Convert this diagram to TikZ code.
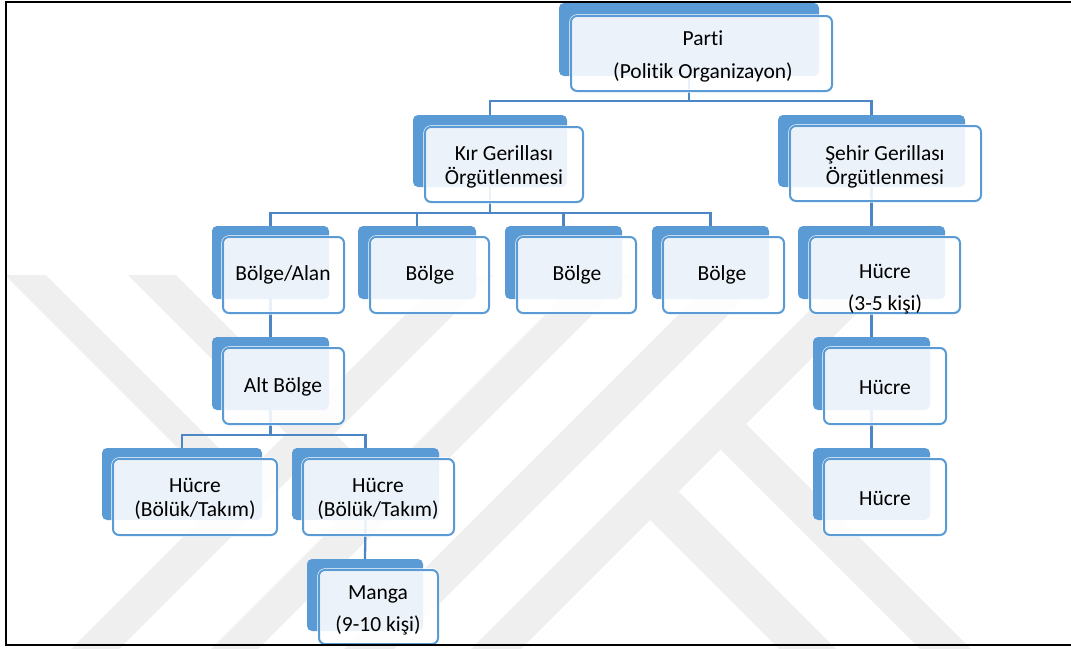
\documentclass[tikz,border=0pt]{standalone}
\usepackage{fontspec}
\setmainfont{Carlito}[Ligatures=CommonOff]
\usetikzlibrary{fit}
\pgfdeclarelayer{wm}
\pgfdeclarelayer{bg}
\pgfsetlayers{wm,bg,main}
\definecolor{boxblue}{HTML}{5B9BD5}
\definecolor{linkblue}{HTML}{4D86C4}
\definecolor{wmgray}{HTML}{EFEFEF}
\tikzset{
  backbox/.style={fill=boxblue, draw=none, rounded corners=5pt, inner sep=0pt},
  frontbox/.style={fill=white, fill opacity=0.88, draw=white,
    double=boxblue, double distance=2pt, line width=0.6pt, rounded corners=6pt,
    inner sep=0pt},
  txt/.style={align=center, inner sep=0pt, text=black, font=\fontsize{21.5}{24}\selectfont},
  link/.style={draw=linkblue, line width=2.3pt},
  frameline/.style={draw=black, line width=2.2pt},
  band/.style={fill=wmgray, draw=none}
}
\begin{document}
\begin{tikzpicture}[x=1pt,y=-1pt]
\useasboundingbox (0,0) rectangle (1071,648);

% boxes
\node[backbox, fit={(559,3)(819,76)}] (partiB) {};
\node[frontbox, fit={(571,16)(832,91)}] (partiF) {};
\node[txt] (partiT) at (703,56) {Parti\\[9pt](Politik Organizayon)};

\node[backbox, fit={(413,115)(567,187)}] (kirB) {};
\node[frontbox, fit={(425,127)(583,202)}] (kirF) {};
\node[txt] (kirT) at (504,166.5) {Kır Gerillası\\Örgütlenmesi};

\node[backbox, fit={(778,115)(965,187)}] (sehirB) {};
\node[frontbox, fit={(790,126)(981,201)}] (sehirF) {};
\node[txt] (sehirT) at (885,166.5) {Şehir Gerillası\\Örgütlenmesi};

\node[backbox, fit={(212,226)(329,299)}] (alanB) {};
\node[frontbox, fit={(223,237)(344,313)}] (alanF) {};
\node[txt] (alanT) at (283,275) {Bölge/Alan};

\node[backbox, fit={(358,226)(476,299)}] (bolgeaB) {};
\node[frontbox, fit={(370,237)(489,313)}] (bolgeaF) {};
\node[txt] (bolgeaT) at (430,275) {Bölge};

\node[backbox, fit={(505,226)(622,299)}] (bolgebB) {};
\node[frontbox, fit={(517,237)(636,313)}] (bolgebF) {};
\node[txt] (bolgebT) at (577,275) {Bölge};

\node[backbox, fit={(652,226)(769,299)}] (bolgecB) {};
\node[frontbox, fit={(663,237)(784,313)}] (bolgecF) {};
\node[txt] (bolgecT) at (722,275) {Bölge};

\node[backbox, fit={(798,226)(945,299)}] (hucaB) {};
\node[frontbox, fit={(810,237)(960,313)}] (hucaF) {};
\node[txt] (hucaT) at (885,289) {Hücre\\[8pt](3-5 kişi)};

\node[backbox, fit={(212,337)(329,410)}] (altB) {};
\node[frontbox, fit={(223,348)(344,424)}] (altF) {};
\node[txt] (altT) at (283,387) {Alt Bölge};

\node[backbox, fit={(813,337)(930,410)}] (hucbB) {};
\node[frontbox, fit={(824,348)(946,424)}] (hucbF) {};
\node[txt] (hucbT) at (885,387) {Hücre};

\node[backbox, fit={(813,448)(930,520)}] (huccB) {};
\node[frontbox, fit={(824,459)(946,535)}] (huccF) {};
\node[txt] (huccT) at (885,498) {Hücre};

\node[backbox, fit={(102,448)(262,520)}] (bolukaB) {};
\node[frontbox, fit={(113,459)(277,535)}] (bolukaF) {};
\node[txt] (bolukaT) at (195,499) {Hücre\\(Bölük/Takım)};

\node[backbox, fit={(292,448)(439,520)}] (bolukbB) {};
\node[frontbox, fit={(303,459)(454,535)}] (bolukbF) {};
\node[txt] (bolukbT) at (378,499) {Hücre\\(Bölük/Takım)};

\node[backbox, fit={(307,559)(423,631)}] (mangaB) {};
\node[frontbox, fit={(319,570)(438,644)}] (mangaF) {};
\node[txt] (mangaT) at (378,610) {Manga\\[8pt](9-10 kişi)};

% connectors
\begin{pgfonlayer}{bg}
\coordinate (j1) at (689,101);
\draw[link] (partiB.south) -- (j1);
\draw[link] (j1) -| (kirB.north);
\draw[link] (j1) -| (sehirB.north);
\coordinate (j2) at (490,213);
\draw[link] (kirB.south) -- (j2);
\draw[link] (j2) -| (alanB.north);
\draw[link] (j2) -| (bolgeaB.north);
\draw[link] (j2) -| (bolgebB.north);
\draw[link] (j2) -| (bolgecB.north);
\draw[link] (sehirB.south) -- (hucaB.north);
\draw[link] (hucaB.south) -- (hucbB.north);
\draw[link] (hucbB.south) -- (huccB.north);
\draw[link] (alanB.south) -- (altB.north);
\coordinate (j3) at (270.5,435);
\draw[link] (altB.south) -- (j3);
\draw[link] (j3) -| (bolukaB.north);
\draw[link] (j3) -| (bolukbB.north);
\draw[link] (bolukbB.south) -- (mangaB.north);
\end{pgfonlayer}

% watermark
\begin{pgfonlayer}{wm}
\begin{scope}
\clip (0,275) rectangle (1071,648);
\fill[band] (452,268) -- (500,268) -- (118,650) -- (70,650) -- cycle;
\fill[band] (592,268) -- (639,268) -- (257,650) -- (210,650) -- cycle;
\fill[band] (725,268) -- (775,268) -- (393,650) -- (343,650) -- cycle;
\fill[band] (852,268) -- (902,268) -- (520,650) -- (470,650) -- cycle;
\fill[band] (-2,268) -- (39,268) -- (245.5,474.5) -- (225,495) -- cycle;
\fill[band] (121,268) -- (169,268) -- (380.5,479.5) -- (356.5,503.5) -- cycle;
\fill[band] (650,520) -- (678.5,491.5) -- (837,650) -- (780,650) -- cycle;
\fill[band] (720.5,449.5) -- (746,424) -- (972,650) -- (921,650) -- cycle;
\end{scope}
\end{pgfonlayer}

% frame
\coordinate (ftr) at (1071,2);
\coordinate (ftl) at (6,2);
\coordinate (fbl) at (6,645);
\coordinate (fbr) at (1071,645);
\draw[frameline] (ftr) -- (ftl) -- (fbl) -- (fbr);
\end{tikzpicture}
\end{document}
